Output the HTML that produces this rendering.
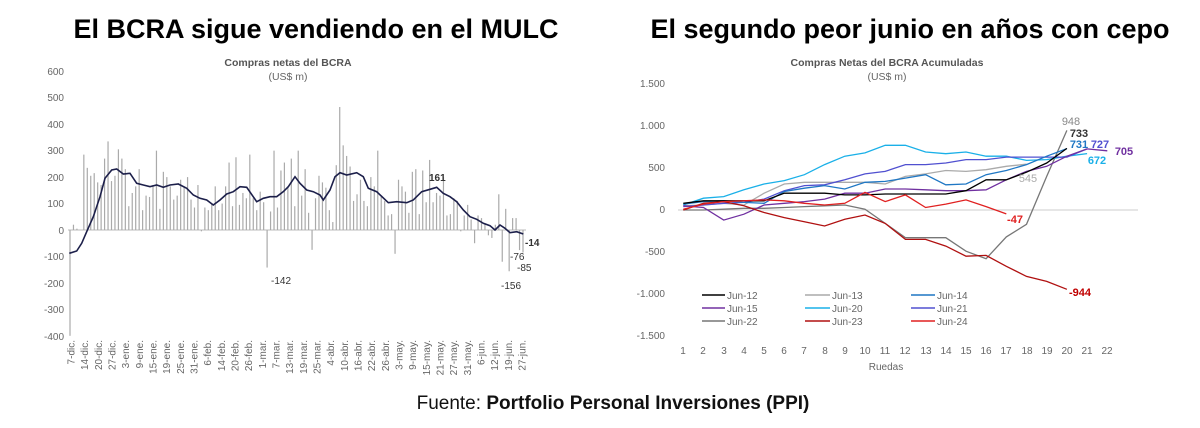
<!DOCTYPE html>
<html><head><meta charset="utf-8"><style>
html,body{margin:0;padding:0;background:#fff;}
svg{display:block;font-family:"Liberation Sans",Arial,sans-serif;}
</style></head><body>
<svg id="s" width="1200" height="428" viewBox="0 0 1200 428" xmlns="http://www.w3.org/2000/svg">
<text x="316" y="38" font-size="27" font-weight="bold" text-anchor="middle" fill="#000">El BCRA sigue vendiendo en el MULC</text>
<text x="910" y="38" font-size="27" font-weight="bold" text-anchor="middle" fill="#000">El segundo peor junio en años con cepo</text>
<text x="613" y="409" font-size="19" text-anchor="middle" fill="#111">Fuente: <tspan font-weight="bold">Portfolio Personal Inversiones (PPI)</tspan></text>

<!-- left chart -->
<text x="288" y="66" font-size="10.5" font-weight="bold" text-anchor="middle" fill="#555">Compras netas del BCRA</text>
<text x="288" y="80" font-size="10.5" text-anchor="middle" fill="#666">(US$ m)</text>
<g font-size="10" fill="#666" text-anchor="end">
<text x="64" y="75">600</text><text x="64" y="101">500</text><text x="64" y="128">400</text>
<text x="64" y="154">300</text><text x="64" y="181">200</text><text x="64" y="207">100</text>
<text x="64" y="234">0</text><text x="64" y="260">-100</text><text x="64" y="287">-200</text>
<text x="64" y="313">-300</text><text x="64" y="340">-400</text>
</g>
<line x1="68" y1="230" x2="526" y2="230" stroke="#bbb" stroke-width="1"/>
<g id="bars" fill="#aaa"></g>
<path id="ma" fill="none" stroke="#1c1f4a" stroke-width="1.6"/>
<g font-size="10" fill="#333">
<text x="429" y="181" font-weight="bold">161</text>
<text x="525" y="246" font-weight="bold">-14</text>
<text x="271" y="284">-142</text>
<text x="510" y="260">-76</text>
<text x="517" y="271">-85</text>
<text x="501" y="289">-156</text>
</g>
<g id="xl" font-size="10" fill="#666"></g>

<!-- right chart -->
<text x="887" y="66" font-size="10.5" font-weight="bold" text-anchor="middle" fill="#555">Compras Netas del BCRA Acumuladas</text>
<text x="887" y="80" font-size="10.5" text-anchor="middle" fill="#666">(US$ m)</text>
<g font-size="10" fill="#666" text-anchor="end">
<text x="665" y="87">1.500</text><text x="665" y="129">1.000</text><text x="665" y="171">500</text>
<text x="665" y="213">0</text><text x="665" y="255">-500</text><text x="665" y="297">-1.000</text>
<text x="665" y="339">-1.500</text>
</g>
<line x1="678" y1="210" x2="1138" y2="210" stroke="#ccc" stroke-width="1"/>
<g id="rl"></g>
<g font-size="10" fill="#666" text-anchor="middle">
<text x="683" y="354">1</text><text x="703" y="354">2</text><text x="724" y="354">3</text><text x="744" y="354">4</text>
<text x="764" y="354">5</text><text x="784" y="354">6</text><text x="804" y="354">7</text><text x="825" y="354">8</text>
<text x="845" y="354">9</text><text x="865" y="354">10</text><text x="885" y="354">11</text><text x="905" y="354">12</text>
<text x="926" y="354">13</text><text x="946" y="354">14</text><text x="966" y="354">15</text><text x="986" y="354">16</text>
<text x="1006" y="354">17</text><text x="1027" y="354">18</text><text x="1047" y="354">19</text><text x="1067" y="354">20</text>
<text x="1087" y="354">21</text><text x="1107" y="354">22</text>
<text x="886" y="370">Ruedas</text>
</g>
<g font-size="11" font-weight="bold">
<text x="1071" y="125" fill="#888" text-anchor="middle" font-weight="normal">948</text>
<text x="1079" y="137" fill="#333" text-anchor="middle">733</text>
<text x="1079" y="148" fill="#1f77c4" text-anchor="middle">731</text>
<text x="1100" y="148" fill="#5050d0" text-anchor="middle">727</text>
<text x="1124" y="155" fill="#7030a0" text-anchor="middle">705</text>
<text x="1097" y="164" fill="#1ab0e8" text-anchor="middle">672</text>
<text x="1028" y="182" fill="#aaa" text-anchor="middle" font-weight="normal">545</text>
<text x="1015" y="223" fill="#e02020" text-anchor="middle">-47</text>
<text x="1080" y="296" fill="#c00000" text-anchor="middle">-944</text>
</g>
<g font-size="10" fill="#666">
<line x1="702" y1="295" x2="725" y2="295" stroke="#000" stroke-width="1.5"/><text x="727" y="299">Jun-12</text>
<line x1="805" y1="295" x2="830" y2="295" stroke="#aaa" stroke-width="1.5"/><text x="832" y="299">Jun-13</text>
<line x1="911" y1="295" x2="935" y2="295" stroke="#1f77c4" stroke-width="1.5"/><text x="937" y="299">Jun-14</text>
<line x1="702" y1="308" x2="725" y2="308" stroke="#7030a0" stroke-width="1.5"/><text x="727" y="312">Jun-15</text>
<line x1="805" y1="308" x2="830" y2="308" stroke="#1ab0e8" stroke-width="1.5"/><text x="832" y="312">Jun-20</text>
<line x1="911" y1="308" x2="935" y2="308" stroke="#5050d0" stroke-width="1.5"/><text x="937" y="312">Jun-21</text>
<line x1="702" y1="321" x2="725" y2="321" stroke="#777" stroke-width="1.5"/><text x="727" y="325">Jun-22</text>
<line x1="805" y1="321" x2="830" y2="321" stroke="#b01010" stroke-width="1.5"/><text x="832" y="325">Jun-23</text>
<line x1="911" y1="321" x2="935" y2="321" stroke="#e02020" stroke-width="1.5"/><text x="937" y="325">Jun-24</text>
</g>
</svg>
<script>
var NS="http://www.w3.org/2000/svg";
var v=[-400,20,5,0,285,235,205,215,180,170,270,335,185,205,305,270,230,90,140,165,230,75,130,125,170,300,80,220,200,165,115,130,190,165,200,115,85,170,-5,85,75,100,165,75,100,165,255,90,275,95,140,120,285,120,75,145,105,-142,70,300,85,225,255,165,270,90,300,130,230,65,-75,120,205,180,160,75,30,245,465,320,280,240,110,135,190,110,90,200,165,300,125,110,55,60,-90,190,165,145,65,220,230,60,225,105,265,105,140,130,200,55,60,120,110,-5,55,95,40,-50,55,45,25,-20,-30,20,135,-120,80,-156,45,45,-76,-85];
var g=document.getElementById("bars"),n=v.length,x0=70,x1=523,s=0.2645;
for(var i=0;i<n;i++){var x=x0+(x1-x0)*i/(n-1),h=v[i]*s;var r=document.createElementNS(NS,"rect");
r.setAttribute("x",x-0.6);r.setAttribute("width",1.2);r.setAttribute("y",h>0?230-h:230);r.setAttribute("height",Math.abs(h));g.appendChild(r);}
var p=[118,610,140,603,155,580,170,545,190,500,210,440,225,385,245,360,260,357,280,372,300,370,320,400,340,405,360,410,380,405,400,412,420,405,445,402,470,415,490,435,510,445,530,450,550,465,570,450,590,432,610,425,630,410,650,412,680,455,700,445,720,440,740,440,760,425,775,410,795,380,810,400,830,420,850,425,870,435,880,450,900,420,915,380,930,368,950,375,980,368,1000,380,1015,415,1040,425,1075,458,1100,455,1130,458,1150,450,1175,425,1200,418,1220,412,1240,430,1260,440,1280,455,1300,480,1320,500,1340,508,1360,520,1380,527,1395,540,1410,525,1425,535,1440,548,1460,545,1480,552];
var d="";for(var i=0;i<p.length;i+=2){d+=(i?"L":"M")+(30+p[i]/3).toFixed(1)+","+(50+p[i+1]/3).toFixed(1);}
document.getElementById("ma").setAttribute("d",d);
var labs=["7-dic.","14-dic.","20-dic.","27-dic.","3-ene.","9-ene.","15-ene.","19-ene.","25-ene.","31-ene.","6-feb.","14-feb.","20-feb.","26-feb.","1-mar.","7-mar.","13-mar.","19-mar.","25-mar.","4-abr.","10-abr.","16-abr.","22-abr.","26-abr.","3-may.","9-may.","15-may.","21-may.","27-may.","31-may.","6-jun.","12-jun.","19-jun.","27-jun."];
var xl=document.getElementById("xl");
for(var i=0;i<labs.length;i++){var x=71+(522-71)*i/(labs.length-1);var t=document.createElementNS(NS,"text");
t.setAttribute("transform","translate("+(x+3.5)+",340) rotate(-90)");t.setAttribute("text-anchor","end");t.textContent=labs[i];xl.appendChild(t);}
var ser=[
["#aaa",[50,60,80,60,200,310,330,330,330,330,310,400,430,470,460,480,520,545]],
["#777",[0,0,10,20,20,30,40,50,60,10,-160,-330,-330,-330,-490,-580,-320,-170,400,948]],
["#1ab0e8",[60,140,160,240,310,350,420,540,640,680,770,770,690,670,690,640,640,590,600,640,672]],
["#5050d0",[40,60,80,90,130,230,290,300,360,430,460,540,540,560,600,600,630,630,630,630,727]],
["#7030a0",[50,30,-120,-50,60,80,100,130,200,200,250,250,240,230,230,240,360,460,520,640,727,705]],
["#1f77c4",[70,100,110,90,80,220,260,290,250,330,340,380,420,300,310,420,470,540,640,731]],
["#000",[80,110,110,110,110,200,200,200,180,180,190,190,190,190,230,360,360,450,560,733]],
["#b01010",[0,80,100,50,-30,-90,-140,-190,-110,-60,-160,-350,-350,-430,-550,-540,-670,-790,-850,-944]],
["#e02020",[10,70,100,110,120,110,80,60,80,210,100,180,30,70,120,40,-47]]];
var rl=document.getElementById("rl");
ser.forEach(function(sr){var d="";sr[1].forEach(function(val,i){d+=(i?"L":"M")+(683.3+i*20.19).toFixed(1)+","+(210-val*0.084).toFixed(1);});
var e=document.createElementNS(NS,"path");e.setAttribute("d",d);e.setAttribute("fill","none");e.setAttribute("stroke",sr[0]);e.setAttribute("stroke-width","1.3");rl.appendChild(e);});
</script>
</body></html>
